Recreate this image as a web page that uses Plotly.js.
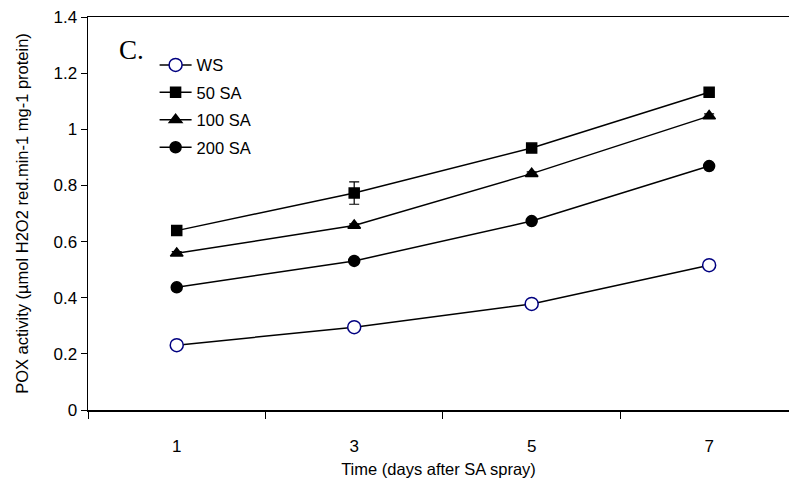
<!DOCTYPE html>
<html>
<head>
<meta charset="utf-8">
<script src="https://cdn.plot.ly/plotly-3.0.1.min.js"></script>
<style>html,body{margin:0;padding:0;background:#fff;}#chart{width:789px;height:490px;}</style>
</head>
<body>
<div id="chart"></div>
<script>
var days = ['1', '3', '5', '7'];
var seriesNames = ['WS', '50 SA', '100 SA', '200 SA'];
var ws = [0.231, 0.295, 0.378, 0.516];
var sa50 = [0.639, 0.773, 0.933, 1.132];
var sa100 = [0.558, 0.657, 0.842, 1.047];
var sa200 = [0.437, 0.531, 0.673, 0.869];
var err50 = [0.008, 0.04, 0.008, 0.01];
var err100 = [0.006, 0.006, 0.006, 0.008];
var err200 = [0.005, 0.005, 0.005, 0.006];
var errWs = [0.005, 0.005, 0.005, 0.005];

function mk(name, y, err, symbol, color, fill, size, grp) {
  return {
    type: 'scatter', mode: 'lines+markers', name: name, x: days, y: y,
    legendgroup: grp,
    line: {color: '#000', width: 1.5},
    marker: {symbol: symbol, size: size, color: fill, line: {color: color, width: 1.5}},
    error_y: {type: 'data', array: err, visible: true, color: '#000', thickness: 1.2, width: 5},
    cliponaxis: false
  };
}
var traces = [
  mk(seriesNames[0], ws, errWs, 'circle', '#000080', '#fff', 13, 'a'),
  mk(seriesNames[1], sa50, err50, 'square', '#000', '#000', 10, 'b'),
  mk(seriesNames[2], sa100, err100, 'triangle-up', '#000', '#000', 11, 'c'),
  mk(seriesNames[3], sa200, err200, 'circle', '#000', '#000', 11, 'd')
];

var layout = {
  width: 789, height: 490,
  margin: {l: 88, r: 0, t: 17, b: 80},
  paper_bgcolor: '#fff', plot_bgcolor: '#fff',
  font: {family: 'Arial, Liberation Sans, sans-serif', color: '#000', size: 17},
  showlegend: true,
  legend: {x: 0.095, y: 0.922, xanchor: 'left', yanchor: 'top', bgcolor: 'rgba(0,0,0,0)',
           font: {size: 16.5}, tracegroupgap: 3, itemwidth: 32},
  xaxis: {
    type: 'category', range: [-0.5, 3.45],
    showline: true, linecolor: '#000', linewidth: 1.5, mirror: true,
    ticks: 'outside', tickson: 'boundaries', ticklen: 7, tickcolor: '#000', tickwidth: 1,
    showgrid: false, zeroline: false,
    tickfont: {size: 17}, ticklabelstandoff: 20,
    title: {text: 'Time (days after SA spray)', font: {size: 16.5}, standoff: 8}
  },
  yaxis: {
    range: [0, 1.4], dtick: 0.2, tick0: 0,
    showline: true, linecolor: '#000', linewidth: 1.5,
    ticks: 'outside', ticklen: 6, tickcolor: '#000', tickwidth: 1,
    showgrid: false, zeroline: false,
    tickfont: {size: 17},
    title: {text: 'POX activity (µmol H2O2 red.min-1 mg-1 protein)', font: {size: 16.5}, standoff: 20}
  },
  annotations: [{
    text: 'C.', xref: 'paper', yref: 'paper', x: 0.042, y: 0.915, xanchor: 'left', yanchor: 'middle',
    showarrow: false, font: {family: 'Liberation Serif, Times New Roman, serif', size: 27, color: '#000'}
  }]
};
Plotly.newPlot('chart', traces, layout, {displayModeBar: false, staticPlot: true});
</script>
</body>
</html>
